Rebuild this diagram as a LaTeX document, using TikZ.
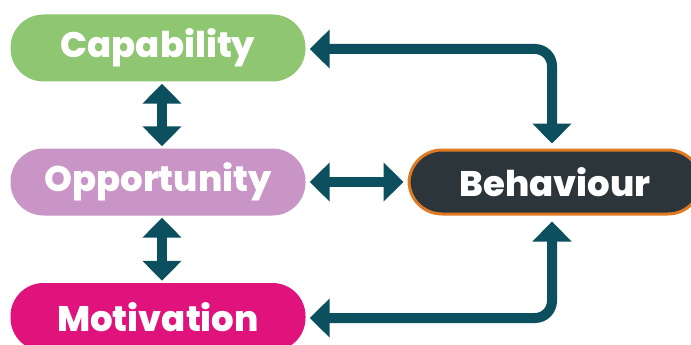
\documentclass[tikz,border=0pt]{standalone}
\usepackage{fontspec}
\IfFontExistsTF{Poppins ExtraBold}
  {\setmainfont{Poppins}[BoldFont={Poppins ExtraBold}]}
  {\setmainfont{Poppins}}
\usetikzlibrary{arrows.meta}
\definecolor{capgreen}{HTML}{8EC672}
\definecolor{opplilac}{HTML}{C994C6}
\definecolor{motpink}{HTML}{E0137C}
\definecolor{behdark}{HTML}{2C353A}
\definecolor{behorange}{HTML}{E07A22}
\definecolor{arrteal}{HTML}{0C4F5E}
\tikzset{
  pill/.style={minimum width=295pt, minimum height=67pt, rounded corners=33pt,
    inner sep=0pt, text=white, font=\fontsize{35.5}{40}\selectfont\bfseries},
  link/.style={draw=arrteal, line width=10pt,
    arrows={Triangle[width=38pt,length=20pt]-Triangle[width=38pt,length=20pt]}},
}
\begin{document}
\begin{tikzpicture}[x=1pt,y=-1pt]
\clip (0,0) rectangle (691,345);
\fill[white] (0,0) rectangle (691,345);
\node[pill, fill=capgreen] (cap) at (158,48) {Capability};
\node[pill, fill=opplilac] (opp) at (158,182) {Opportunity};
\node[pill, fill=motpink, minimum height=68pt] (mot) at (158,317) {Motivation};
\node[pill, fill=behdark, draw=behorange, line width=3pt, minimum width=292pt, minimum height=64pt] (beh) at (555,182) {Behaviour};
\draw[link, shorten <=2pt, shorten >=2pt] ([xshift=4pt]cap.south) -- ([xshift=4pt]opp.north);
\draw[link, shorten <=2pt, shorten >=2pt] ([xshift=4pt]opp.south) -- ([xshift=4pt]mot.north);
\draw[link, shorten <=4pt, shorten >=4pt] (opp.east) -- (beh.west);
\draw[link, rounded corners=17pt, shorten <=4pt, shorten >=5pt] ([yshift=-1pt]cap.east) -| ([xshift=-3pt]beh.north);
\draw[link, rounded corners=17pt, shorten <=4pt, shorten >=6pt] ([yshift=-1pt]mot.east) -| ([xshift=-3pt]beh.south);
\end{tikzpicture}
\end{document}
